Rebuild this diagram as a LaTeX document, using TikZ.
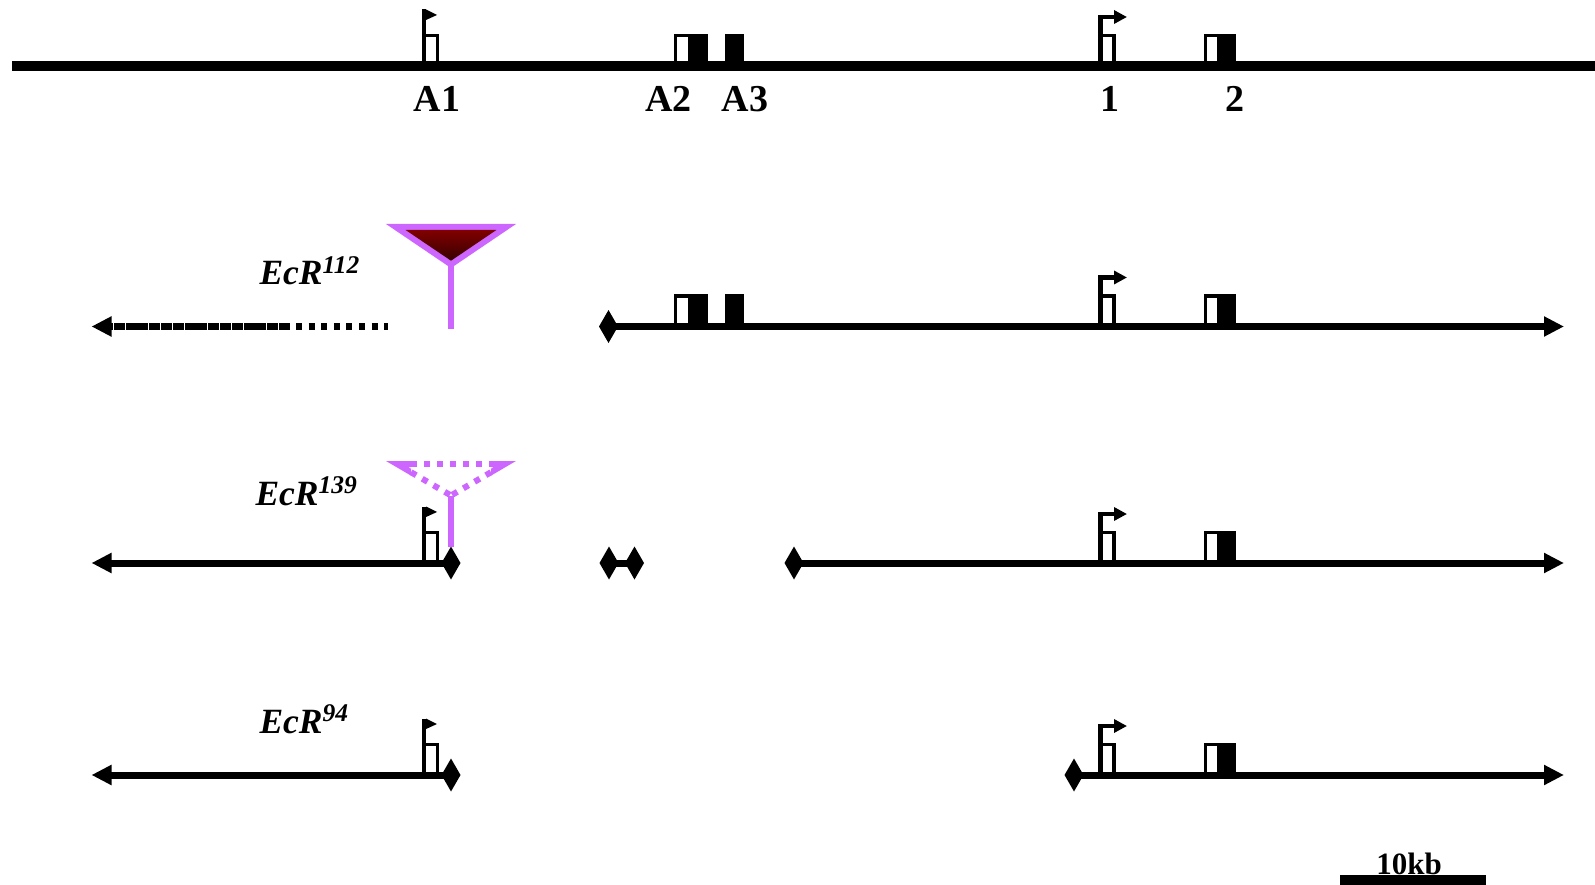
\documentclass[tikz,border=0pt]{standalone}
\usepackage{fontspec}
\setmainfont{Liberation Serif}
\usetikzlibrary{arrows.meta, shapes.geometric}

\definecolor{insviolet}{RGB}{204,102,255}
\definecolor{insred}{RGB}{128,0,0}
\definecolor{insdark}{RGB}{55,0,0}

\tikzset{
  chrom/.style={line width=7pt},
  tiptri/.style={-{Triangle[length=20pt,width=19pt]}},
  endmark/.style={diamond, fill=black, inner sep=0pt, outer sep=0pt,
    minimum width=19pt, minimum height=33pt},
  gname/.style={anchor=base west, font=\fontsize{35.5}{40}\selectfont\bfseries\itshape},
  exname/.style={anchor=base, font=\fontsize{38}{44}\selectfont\bfseries},
  pics/pennant/.style={code={
    \draw[line width=4.5pt] (2.5,0) -- (2.5,-56.5);
    \draw[line width=3.5pt] (2.5,-30.3) -| (16,0);
    \fill (4.5,-56.5) -- (15.5,-51) -- (4.5,-46) -- cycle;
  }},
  pics/tss/.style={code={
    \draw[line width=3.5pt] (2.5,-30.3) -| (16,0);
    \draw[line width=4.5pt, -{Triangle[length=13pt,width=13pt]}] (2.5,0) |- (29,-49);
  }},
}

\begin{document}
\begin{tikzpicture}[x=1pt, y=-1pt]
  \useasboundingbox (0,0) rectangle (1595,885);

  % wild-type locus
  \coordinate (t0) at (12,66);
  \coordinate (t1) at (1595,66);
  \draw[line width=10pt] (t0) -- (t1);
  \node[exname] (a1) at (437,112) {A1};
  \node[exname] (a2) at (668.5,112) {A2};
  \node[exname] (a3) at (745,112) {A3};
  \node[exname] (ex1) at (1110,112) {1};
  \node[exname] (ex2) at (1235,112) {2};

  % promoter 1 and exon 2 sit on every row
  \foreach \y in {66,326.5,563,775} {
    \pic at (1098,\y) {tss};
    \draw[line width=3.5pt] (1205.7,\y) |- (1217,\y-30.3);
    \fill (1217,\y) rectangle (1236,\y-32);
  }
  % promoter A1
  \foreach \y in {66,563,775}
    \pic at (421.5,\y) {pennant};
  % exons A2, A3
  \foreach \y in {66,326.5} {
    \draw[line width=3.5pt] (675.7,\y) |- (688,\y-30.3);
    \fill (688,\y) rectangle (708,\y-32);
    \fill (725,\y) rectangle (744,\y-32);
  }

  % EcR112
  \node[gname] (l112) at (256,285) {EcR\raisebox{12pt}{\fontsize{25.5}{26}\selectfont 112}};
  \coordinate (w2) at (91.5,326.5);
  \coordinate (m2) at (290,326.5);
  \coordinate (m2b) at (296,326.5);
  \coordinate (s2) at (388,326.5);
  \coordinate (e2) at (1564,326.5);
  \draw[chrom, dash pattern=on 11pt off 0.8pt, tiptri] (m2) -- (w2);
  \draw[chrom, dash pattern=on 6pt off 6.6pt] (m2b) -- (s2);
  \node[endmark] (d2) at (608.5,326.5) {};
  \draw[chrom, tiptri] (d2.center) -- (e2);
  % P element insertion
  \fill[insviolet] (386,224) -- (516,224) -- (451,268) -- cycle;
  \shade[top color=insred, bottom color=insdark]
    (405.6,230) -- (496.4,230) -- (451,260.7) -- cycle;
  \coordinate (p112) at (451,262);
  \coordinate (q112) at (451,329);
  \draw[insviolet, line width=6pt] (p112) -- (q112);

  % EcR139
  \node[gname] (l139) at (252,505) {EcR\raisebox{12pt}{\fontsize{25.5}{26}\selectfont 139}};
  \coordinate (w3) at (91.5,563);
  \coordinate (e3) at (1564,563);
  \node[endmark] (d3a) at (451,563) {};
  \node[endmark] (d3b) at (609,563) {};
  \node[endmark] (d3c) at (634.5,563) {};
  \node[endmark] (d3d) at (794,563) {};
  \draw[chrom, tiptri] (d3a.center) -- (w3);
  \draw[chrom] (d3b.center) -- (d3c.center);
  \draw[chrom, tiptri] (d3d.center) -- (e3);
  % excised P element
  \foreach \cx in {380,491} {
    \begin{scope}
      \clip (\cx,450) rectangle (\cx+31,510);
      \fill[insviolet, even odd rule] (386,461) -- (516,461) -- (451,499) -- cycle
        (408,467) -- (494,467) -- (451,492) -- cycle;
    \end{scope}
  }
  \begin{scope}[insviolet, line width=6pt, dash pattern=on 6pt off 7pt]
    \draw (411,464) -- (491,464);
    \draw (411,472.2) -- (451,495.5);
    \draw (491,472.2) -- (451,495.5);
  \end{scope}
  \coordinate (p139) at (451,496);
  \draw[insviolet, line width=6pt] (p139) -- (d3a.north);

  % EcR94
  \node[gname] (l94) at (256,733) {EcR\raisebox{12pt}{\fontsize{25.5}{26}\selectfont 94}};
  \coordinate (w4) at (91.5,775);
  \coordinate (e4) at (1564,775);
  \node[endmark] (d4a) at (451,775) {};
  \node[endmark] (d4b) at (1074,775) {};
  \draw[chrom, tiptri] (d4a.center) -- (w4);
  \draw[chrom, tiptri] (d4b.center) -- (e4);

  % scale bar
  \node[anchor=base, font=\fontsize{31}{36}\selectfont\bfseries] (kb) at (1409,874) {10kb};
  \fill (1340,875) rectangle (1486,885);
\end{tikzpicture}
\end{document}
